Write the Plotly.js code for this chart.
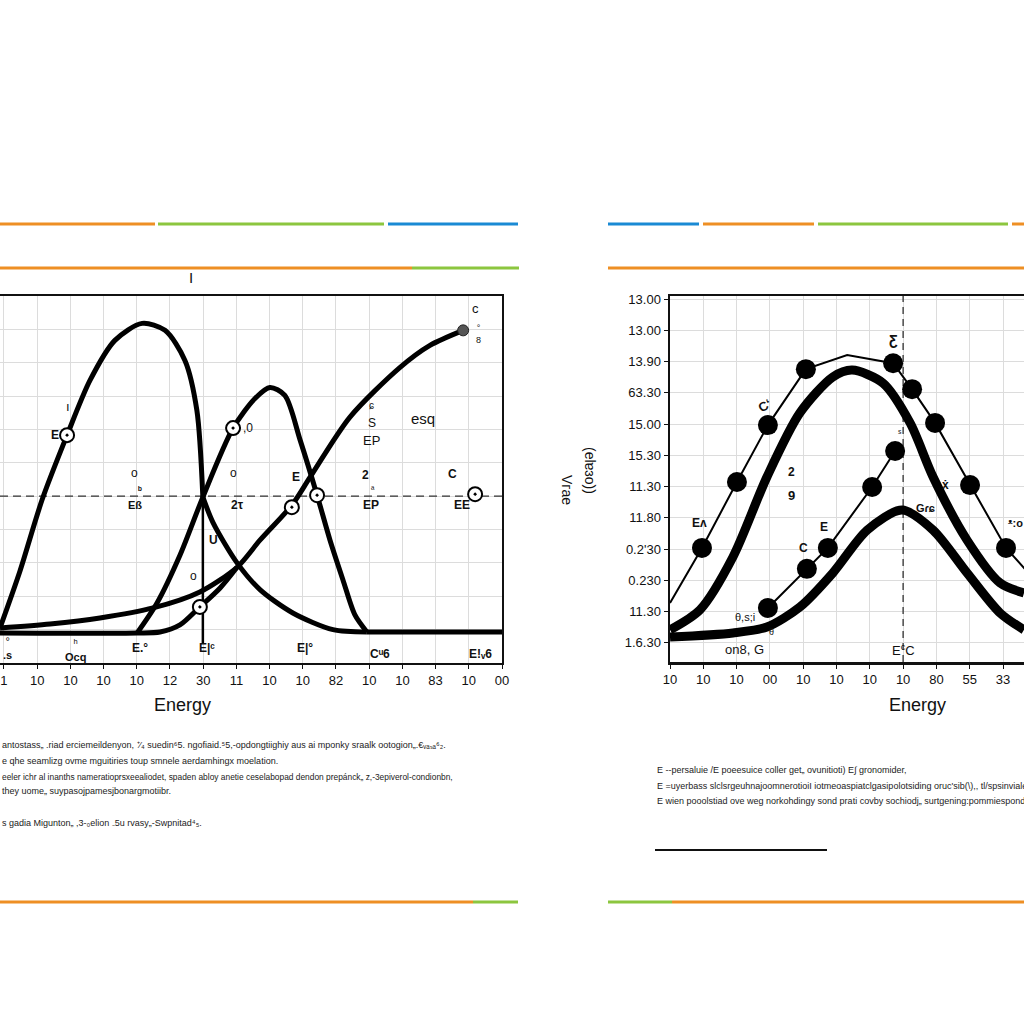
<!DOCTYPE html>
<html>
<head>
<meta charset="utf-8">
<script src="https://cdn.plot.ly/plotly-3.0.1.min.js"></script>
<style>
  html, body { margin: 0; padding: 0; background: #ffffff; }
  #chart { width: 1024px; height: 1024px; }
</style>
</head>
<body>
<div id="chart"></div>
<script>
// ---------- left panel: energy curves ----------
const leftTicks = [0, 1, 2, 3, 4, 5, 6, 7, 8, 9, 10, 11, 12, 13, 14, 15];
const leftTickText = ["1", "10", "10", "10", "10", "12", "30", "11", "10", "10", "82", "10", "10", "83", "10", "00"];

// tall hump, rising from the origin and dropping to the crossing
const humpX = [-0.12, 0.48, 1.15, 1.9, 2.59, 3.34, 4.16, 4.85, 5.45, 5.81, 5.99];
const humpY = [1.05, 2.75, 4.9, 6.83, 8.47, 9.67, 10.18, 9.97, 9.07, 7.57, 4.97];
// its tail after the crossing
const tailX = [5.99, 6.3, 7.02, 7.71, 8.7, 9.91, 10.93];
const tailY = [4.97, 4.2, 3.0, 2.2, 1.5, 1.0, 0.93];
// middle hump, ending on the flat baseline
const midX = [4.01, 4.61, 5.3, 5.99, 6.9, 7.56, 8.01, 8.46, 8.92, 9.43, 9.82, 10.21, 10.57, 10.93];
const midY = [0.9, 1.8, 3.23, 4.97, 7.04, 7.93, 8.26, 8.02, 6.68, 5.03, 3.68, 2.49, 1.44, 0.93];
const baseX = [10.93, 15];
const baseY = [0.93, 0.93];
// rising S-curve
const sX = [-0.12, 1.39, 2.89, 4.49, 5.9, 7.02, 7.71, 8.67, 9.22, 10.42, 11.93, 12.83, 13.83];
const sY = [1.05, 1.17, 1.35, 1.65, 2.13, 2.87, 3.68, 4.73, 5.57, 7.37, 8.86, 9.52, 9.97];
// lower branch: flat start then rising into the S-curve
const lowX = [-0.12, 4.01, 4.7, 5.3, 5.9, 6.51, 7.02];
const lowY = [0.9, 0.9, 0.93, 1.14, 1.68, 2.25, 2.87];
// vertical drop line at the crossing
const dropX = [5.99, 5.99];
const dropY = [4.97, 0.6];
// open circle markers
const ringX = [1.9, 6.9, 5.9, 8.67, 9.43, 14.19];
const ringY = [6.83, 7.04, 1.68, 4.67, 5.03, 5.06];
const endX = [13.83];
const endY = [9.97];
const leftLevel = 5;

// ---------- right panel: bell curves ----------
const rightTicks = [0, 1, 2, 3, 4, 5, 6, 7, 8, 9, 10];
const rightTickText = ["10", "10", "10", "00", "10", "10", "10", "10", "80", "55", "33"];
const rightYTicks = [0, 1, 2, 3, 4, 5, 6, 7, 8, 9, 10, 11];
const rightYText = ["1.6.30", "11.30", "0.230", "0.2'30", "11.80", "11.30", "15.30", "15.00", "63.30", "13.90", "13.00", "13.00"];

// upper measured series (thin line + dots)
const upX = [0, 0.96, 2.01, 2.94, 4.08, 5.32, 6.7, 7.27, 7.96, 9.01, 10.09, 10.8];
const upY = [1.28, 3.04, 5.15, 6.97, 8.76, 9.21, 8.95, 8.12, 7.04, 5.05, 3.04, 2.2];
const upDotX = [0.96, 2.01, 2.94, 4.08, 6.7, 7.27, 7.96, 9.01, 10.09];
const upDotY = [3.04, 5.15, 6.97, 8.76, 8.95, 8.12, 7.04, 5.05, 3.04];
// upper fitted bell
const bellX = [0, 0.9, 1.89, 2.91, 3.9, 4.89, 5.47, 6.4, 7.21, 7.9, 8.92, 9.91, 10.63];
const bellY = [0.42, 1.06, 2.75, 5.31, 7.36, 8.51, 8.73, 8.31, 7.04, 5.31, 3.29, 1.92, 1.6];
// lower fitted bell
const lowBellX = [0, 1.89, 2.91, 3.9, 4.89, 5.92, 6.97, 7.9, 8.92, 9.91, 10.63];
const lowBellY = [0.19, 0.32, 0.51, 1.15, 2.24, 3.61, 4.25, 3.61, 2.24, 0.96, 0.42];
// lower measured series
const dotX = [2.94, 4.11, 4.74, 6.07, 6.76];
const dotY = [1.12, 2.37, 3.04, 4.99, 6.14];
const rightLevel = 7.0;

const K = 'black';
function line(x, y, w, xa, ya, extra) {
  return Object.assign({
    x: x, y: y, xaxis: xa, yaxis: ya, type: 'scatter', mode: 'lines',
    line: { color: K, width: w, shape: 'spline', smoothing: 0.8 },
    hoverinfo: 'skip'
  }, extra || {});
}

const traces = [
  // left reference level
  line([-0.12, 15], [leftLevel, leftLevel], 1.3, 'x', 'y', { line: { color: '#333', width: 1.3, dash: '8px,5px' } }),
  line(humpX, humpY, 5, 'x', 'y'),
  line(tailX, tailY, 5, 'x', 'y'),
  line(midX, midY, 5, 'x', 'y'),
  line(baseX, baseY, 5, 'x', 'y'),
  line(sX, sY, 5, 'x', 'y'),
  line(lowX, lowY, 5, 'x', 'y'),
  line(dropX, dropY, 2, 'x', 'y', { line: { color: K, width: 2.5 } }),
  { x: ringX, y: ringY, xaxis: 'x', yaxis: 'y', type: 'scatter', mode: 'markers',
    marker: { symbol: 'circle-dot', size: 14, color: 'white', line: { color: K, width: 2 } }, hoverinfo: 'skip' },
  { x: endX, y: endY, xaxis: 'x', yaxis: 'y', type: 'scatter', mode: 'markers',
    marker: { symbol: 'circle', size: 11, color: '#555', line: { color: '#222', width: 1 } }, hoverinfo: 'skip' },

  // right reference energy
  line([rightLevel, rightLevel], [-0.61, 11.1], 1.3, 'x2', 'y2', { line: { color: '#333', width: 1.3, dash: '7px,5px' } }),
  line(upX, upY, 2, 'x2', 'y2', { line: { color: K, width: 2 } }),
  { x: upDotX, y: upDotY, xaxis: 'x2', yaxis: 'y2', type: 'scatter', mode: 'markers',
    marker: { size: 20, color: K }, hoverinfo: 'skip' },
  line(bellX, bellY, 9, 'x2', 'y2'),
  line(lowBellX, lowBellY, 9, 'x2', 'y2'),
  line(dotX, dotY, 2, 'x2', 'y2', { mode: 'lines+markers', line: { color: K, width: 2 }, marker: { size: 20, color: K } })
];

// helper for paper-pixel placement
const px = v => v / 1024;
const py = v => 1 - v / 1024;

function note(text, x, y, xa, ya, size, extra) {
  return Object.assign({
    text: text, x: x, y: y, xref: xa, yref: ya, showarrow: false,
    xanchor: 'center', yanchor: 'middle',
    font: { family: 'Liberation Sans, Arial, sans-serif', size: size || 12, color: '#111' }
  }, extra || {});
}

const bodyFont = { family: 'Liberation Sans, Arial, sans-serif', size: 9, color: '#222' };

const annotations = [
  // left panel labels
  note('c', 14.19, 10.63, 'x', 'y', 13),
  note('°<br>8', 14.3, 9.85, 'x', 'y', 9),
  note('ı', 1.93, 7.7, 'x', 'y', 13),
  note('<b>E</b>', 1.55, 6.83, 'x', 'y', 12),
  note(',0', 7.35, 7.04, 'x', 'y', 12),
  note('o', 3.92, 5.69, 'x', 'y', 12),
  note('<b>ᵇ</b>', 4.1, 5.2, 'x', 'y', 10),
  note('<b>Eß</b>', 3.95, 4.73, 'x', 'y', 11),
  note('o', 6.9, 5.69, 'x', 'y', 12),
  note('<b>2τ</b>', 7.02, 4.73, 'x', 'y', 12),
  note('<b>U</b>', 6.3, 3.68, 'x', 'y', 12),
  note('o', 5.72, 2.6, 'x', 'y', 12),
  note('<b>E</b>', 8.8, 5.57, 'x', 'y', 12),
  note('<b>2</b>', 10.9, 5.63, 'x', 'y', 12),
  note('ª', 11.1, 5.18, 'x', 'y', 9),
  note('<b>EP</b>', 11.05, 4.73, 'x', 'y', 12),
  note('<b>C</b>', 13.5, 5.66, 'x', 'y', 12),
  note('<b>EE</b>', 13.8, 4.73, 'x', 'y', 12),
  note('ɕ', 11.08, 7.72, 'x', 'y', 10),
  note('S', 11.08, 7.2, 'x', 'y', 12),
  note('EP', 11.08, 6.66, 'x', 'y', 13),
  note('esq', 12.62, 7.34, 'x', 'y', 15),
  note('°<br><b>.s</b>', 0.12, 0.45, 'x', 'y', 11),
  note('ʰ<br><b>Ocq</b>', 2.14, 0.4, 'x', 'y', 11),
  note('<b>E.°</b>', 4.1, 0.45, 'x', 'y', 12),
  note('<b>E|ᶜ</b>', 6.11, 0.45, 'x', 'y', 12),
  note('<b>E|°</b>', 9.07, 0.45, 'x', 'y', 12),
  note('<b>Cᵘ6</b>', 11.33, 0.28, 'x', 'y', 12),
  note('<b>E!ᵥ6</b>', 14.34, 0.28, 'x', 'y', 12),
  note('Energy', px(182), py(705), 'paper', 'paper', 18),
  note('I', px(191), py(277), 'paper', 'paper', 15),

  // right panel labels
  note('<b>Ƹ</b>', 6.7, 9.69, 'x2', 'y2', 14),
  note('<b>Cʻ</b>', 2.85, 7.61, 'x2', 'y2', 13, { textangle: -30 }),
  note('<b>2</b>', 3.65, 5.47, 'x2', 'y2', 12),
  note('<b>9</b>', 3.66, 4.73, 'x2', 'y2', 13),
  note('ˢ', 6.9, 6.72, 'x2', 'y2', 10),
  note('<b>Gɾɕ</b>', 7.66, 4.32, 'x2', 'y2', 11),
  note('<b>ẋ</b>', 8.26, 5.05, 'x2', 'y2', 12),
  note('<b>E</b>', 4.62, 3.71, 'x2', 'y2', 12),
  note('<b>C</b>', 4.0, 3.04, 'x2', 'y2', 12),
  note('<b>Eᴧ</b>', 0.9, 3.84, 'x2', 'y2', 12),
  note('θ,s;i', 2.25, 0.83, 'x2', 'y2', 11),
  note('θ', 3.06, 0.35, 'x2', 'y2', 9),
  note('on8, G', 2.25, -0.22, 'x2', 'y2', 13),
  note('E<sup>c</sup>C', 7.0, -0.22, 'x2', 'y2', 13),
  note('<b>ᵜ:o</b>', 10.36, 3.84, 'x2', 'y2', 11),
  note('Energy', px(917), py(705), 'paper', 'paper', 18),
  note('Vгae', px(567), py(490), 'paper', 'paper', 14, { textangle: 90 }),
  note('(elɐɜo))', px(590), py(470), 'paper', 'paper', 14, { textangle: 90 }),

  // notes under the left panel
  note('antostass„ .riad erciemeildenyon, ⁺⁄₄ suedin⁶5. ngofiaid.⁵5,‑opdongtiighiy aus ai mponky sraalk ootogion„.€ᵥₐₛₐ⁶₂.', 0, py(745), 'paper', 'paper', 9, { xanchor: 'left', font: bodyFont }),
  note('e qhe seamlizg ovme mguitiries toup smnele aerdamhingx moelation.', 0, py(761), 'paper', 'paper', 9, { xanchor: 'left', font: bodyFont }),
  note('eeler ichr al inanths nameratioprsxeealiodet, spaden abloy anetie ceselabopad dendon prepánck„ z,-3epiverol-condionbn,', 0, py(777), 'paper', 'paper', 9, { xanchor: 'left', font: Object.assign({}, bodyFont, { size: 8.4 }) }),
  note('they uome„ suypasojpamesjbonargmotiibr.', 0, py(791), 'paper', 'paper', 9, { xanchor: 'left', font: bodyFont }),
  note('s gadia Migunton„ ,3-₀elion ₋5u rvasy„-Swpnitad⁴₅.', 0, py(823), 'paper', 'paper', 9, { xanchor: 'left', font: bodyFont }),

  // notes under the right panel
  note('E --persaluie /E poeesuice coller get„ ovunitioti) E∫ gronomider,', px(655), py(770), 'paper', 'paper', 9, { xanchor: 'left', font: bodyFont }),
  note('E =uyerbass slclsrgeuhnajoomnerotioiI iotmeoaspiatclgasipolotsiding oruc\'sib(\\),, tl/spsinvialeg acti', px(655), py(786), 'paper', 'paper', 9, { xanchor: 'left', font: bodyFont }),
  note('E wien pooolstiad ove weg norkohdingy sond prati covby sochiodj„ surtgening:pommiespond metip', px(655), py(801), 'paper', 'paper', 9, { xanchor: 'left', font: bodyFont })
];

// coloured rule segments framing the panels
function rule(x0, x1, y, color, w) {
  return { type: 'line', xref: 'paper', yref: 'paper', x0: px(x0), x1: px(x1), y0: py(y), y1: py(y),
           line: { color: color, width: w || 3 } };
}
const ORANGE = '#ee8f24', GREEN = '#8cc63f', BLUE = '#1a8ad4';
const shapes = [
  rule(0, 155, 224, ORANGE), rule(158, 384, 224, GREEN), rule(388, 518, 224, BLUE),
  rule(608, 699, 224, BLUE), rule(703, 814, 224, ORANGE), rule(818, 1008, 224, GREEN), rule(1012, 1024, 224, ORANGE),
  rule(0, 412, 268, ORANGE), rule(412, 519, 268, GREEN),
  rule(608, 1024, 268, ORANGE),
  rule(0, 473, 902, ORANGE), rule(473, 518, 902, GREEN),
  rule(608, 672, 902, GREEN), rule(672, 1024, 902, ORANGE),
  rule(655, 827, 850, '#111', 2)
];

const gridC = '#dcdcdc';
const tickFont = { family: 'Liberation Sans, Arial, sans-serif', size: 13, color: '#111' };

const layout = {
  width: 1024, height: 1024,
  margin: { l: 0, r: 0, t: 0, b: 0 },
  paper_bgcolor: 'white', plot_bgcolor: 'white',
  showlegend: false,
  xaxis: {
    domain: [0, px(502)], range: [-0.12, 15], anchor: 'y',
    tickmode: 'array', tickvals: leftTicks, ticktext: leftTickText,
    showgrid: true, gridcolor: gridC, gridwidth: 1, zeroline: false,
    showline: true, linecolor: '#111', linewidth: 2, mirror: true,
    ticks: 'outside', ticklen: 4, tickcolor: '#111', tickfont: tickFont
  },
  yaxis: {
    domain: [py(663), py(296)], range: [0, 11], anchor: 'x',
    tickmode: 'linear', tick0: 0, dtick: 1, showticklabels: false,
    showgrid: true, gridcolor: gridC, gridwidth: 1, zeroline: false,
    showline: true, linecolor: '#111', linewidth: 2, mirror: true
  },
  xaxis2: {
    domain: [px(670), 1], range: [0, 10.63], anchor: 'y2',
    tickmode: 'array', tickvals: rightTicks, ticktext: rightTickText,
    showgrid: true, gridcolor: gridC, gridwidth: 1, zeroline: false,
    showline: true, linecolor: '#111', linewidth: 2.5, mirror: true,
    ticks: 'outside', ticklen: 4, tickcolor: '#111', tickfont: tickFont
  },
  yaxis2: {
    domain: [py(662), py(296)], range: [-0.61, 11.1], anchor: 'x2',
    tickmode: 'array', tickvals: rightYTicks, ticktext: rightYText,
    showgrid: true, gridcolor: gridC, gridwidth: 1, zeroline: false,
    showline: true, linecolor: '#111', linewidth: 2.5, mirror: true,
    ticks: 'outside', ticklen: 4, tickcolor: '#111', tickfont: tickFont
  },
  annotations: annotations,
  shapes: shapes
};

Plotly.newPlot('chart', traces, layout, { staticPlot: true, displayModeBar: false });
</script>
</body>
</html>
